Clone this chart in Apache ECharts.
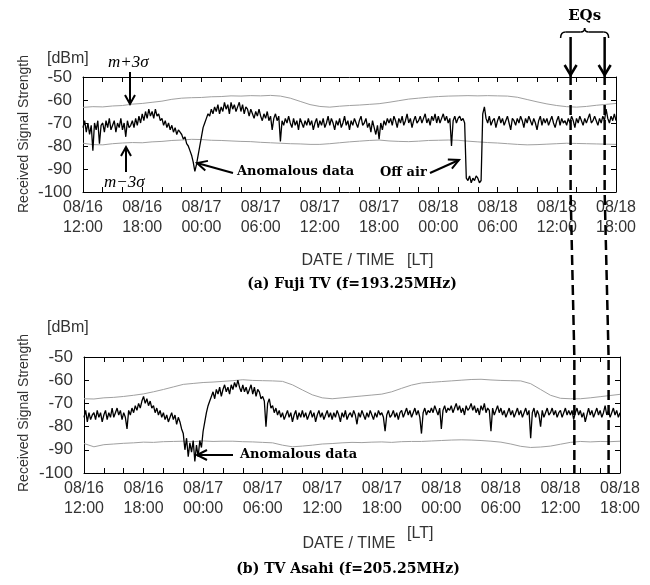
<!DOCTYPE html>
<html>
<head>
<meta charset="utf-8">
<script src="https://cdn.jsdelivr.net/npm/echarts@6/dist/echarts.min.js"></script>
<style>
html,body{margin:0;padding:0;background:#fff;}
#c{width:650px;height:585px;}
</style>
</head>
<body>
<div id="c"></div>
<script>
// ---------- DATA ----------
// time axis: hours since 08/16 12:00 (LT)
const xTickLabels = ['08/16\n12:00','08/16\n18:00','08/17\n00:00','08/17\n06:00','08/17\n12:00','08/17\n18:00','08/18\n00:00','08/18\n06:00','08/18\n12:00','08/18\n18:00'];
const yTicks = [-100, -90, -80, -70, -60, -50];
const SIG_STEP = 1 / 6;  // hours between signal samples (10 min)
const BAND_STEP = 1;     // hours between m±3σ samples
const eqHours = [49.4, 52.85];

// (a) Fuji TV received signal [dBm], one row per hour
const fujiSignal = [
 -72,-69,-74,-70,-75,-71,
 -82,-70,-73,-69,-79,-71,
 -70,-74,-69,-72,-68,-73,
 -71,-69,-74,-70,-72,-68,
 -73,-70,-76,-69,-72,-71,
 -69,-72,-68,-71,-67,-70,
 -66,-69,-65,-68,-64,-67,
 -65,-68,-64,-67,-66,-69,
 -68,-71,-69,-72,-70,-73,
 -71,-74,-72,-75,-73,-74,
 -75,-77,-76,-79,-80,-82,
 -84,-87,-91,-88,-84,-80,
 -76,-72,-70,-68,-66,-67,
 -64,-66,-63,-65,-62,-66,
 -63,-65,-61,-64,-62,-66,
 -61,-64,-62,-65,-63,-61,
 -65,-62,-66,-63,-64,-67,
 -64,-66,-68,-65,-67,-64,
 -67,-69,-66,-68,-65,-69,
 -67,-73,-68,-66,-69,-67,
 -78,-69,-71,-68,-70,-67,
 -70,-72,-68,-71,-69,-73,
 -68,-70,-72,-69,-71,-68,
 -71,-69,-73,-70,-68,-72,
 -69,-71,-68,-72,-70,-67,
 -71,-68,-70,-73,-69,-71,
 -68,-72,-70,-67,-71,-69,
 -73,-69,-71,-68,-70,-72,
 -69,-67,-71,-70,-68,-72,
 -70,-74,-69,-72,-75,-71,
 -77,-70,-73,-69,-71,-68,
 -70,-68,-71,-67,-69,-72,
 -68,-70,-67,-71,-69,-66,
 -70,-68,-72,-69,-67,-70,
 -69,-67,-70,-68,-66,-70,
 -68,-71,-67,-69,-66,-70,
 -67,-70,-68,-66,-69,-67,
 -70,-68,-80,-69,-67,-70,
 -68,-67,-69,-68,-70,-94,
 -95,-93,-96,-94,-95,-93,
 -94,-96,-95,-66,-63,-68,
 -70,-67,-71,-69,-68,-72,
 -69,-67,-70,-68,-71,-69,
 -67,-70,-73,-68,-69,-71,
 -68,-70,-67,-69,-72,-68,
 -70,-67,-69,-71,-68,-70,
 -73,-69,-67,-71,-68,-70,
 -68,-71,-69,-67,-70,-72,
 -69,-67,-71,-68,-70,-69,
 -71,-68,-70,-67,-69,-72,
 -68,-70,-67,-69,-71,-68,
 -70,-68,-66,-70,-69,-67,
 -69,-71,-68,-70,-67,-69,
 -64,-68,-70,-67,-69,-66,
 -69
];
const fujiUpper = [
 -63.2,-62.9,-63.0,-62.6,-62.4,-61.8,-61.5,-61.0,-60.5,-59.7,
 -59.2,-59.0,-58.9,-58.6,-58.5,-58.2,-58.3,-58.1,-58.2,-58.0,
 -58.3,-59.2,-60.6,-62.0,-62.8,-63.1,-62.7,-62.4,-62.2,-61.9,
 -61.6,-61.0,-60.3,-59.6,-59.2,-58.8,-58.5,-58.3,-58.2,-58.1,
 -58.2,-58.1,-58.2,-58.3,-58.8,-59.8,-60.8,-61.7,-62.4,-62.9,
 -63.1,-62.8,-62.3,-61.9,-61.5
];
const fujiLower = [
 -78.8,-79.4,-79.5,-79.0,-78.7,-78.5,-78.6,-78.2,-78.0,-77.6,
 -77.4,-77.1,-77.2,-77.5,-77.6,-77.8,-78.0,-78.1,-78.4,-78.6,
 -78.8,-79.0,-79.1,-79.3,-79.3,-79.0,-78.6,-78.2,-77.9,-77.6,
 -77.4,-77.8,-78.0,-78.1,-77.9,-77.6,-77.5,-77.4,-77.5,-77.9,
 -78.2,-78.5,-78.7,-79.0,-79.3,-79.5,-79.4,-79.2,-79.0,-78.8,
 -78.9,-79.0,-79.1,-79.2,-79.3
];

// (b) TV Asahi received signal [dBm], one row per hour
const asahiSignal = [
 -76,-73,-78,-74,-77,-75,
 -74,-77,-73,-76,-74,-78,
 -75,-73,-77,-74,-76,-72,
 -76,-74,-72,-75,-73,-77,
 -74,-76,-81,-73,-75,-72,
 -74,-71,-73,-70,-72,-69,
 -67,-70,-68,-71,-69,-72,
 -71,-74,-72,-75,-73,-76,
 -74,-77,-75,-78,-76,-74,
 -77,-75,-79,-76,-78,-81,
 -83,-90,-85,-93,-87,-91,
 -86,-95,-88,-93,-86,-89,
 -82,-78,-74,-71,-69,-67,
 -65,-68,-64,-66,-63,-67,
 -64,-62,-65,-63,-66,-62,
 -64,-61,-63,-60,-63,-65,
 -62,-65,-63,-66,-64,-62,
 -66,-63,-67,-64,-65,-68,
 -67,-69,-80,-70,-68,-72,
 -71,-74,-72,-75,-73,-76,
 -74,-77,-75,-73,-76,-74,
 -78,-75,-73,-77,-74,-76,
 -73,-76,-74,-77,-75,-73,
 -76,-74,-78,-75,-73,-76,
 -74,-77,-75,-73,-76,-74,
 -77,-74,-76,-73,-75,-78,
 -74,-76,-73,-77,-75,-74,
 -76,-73,-75,-79,-74,-76,
 -73,-75,-77,-74,-76,-73,
 -75,-77,-74,-76,-73,-75,
 -74,-76,-82,-75,-73,-76,
 -75,-73,-76,-74,-77,-74,
 -73,-76,-74,-72,-75,-73,
 -76,-74,-72,-75,-73,-76,
 -83,-74,-72,-75,-73,-74,
 -72,-74,-71,-73,-75,-72,
 -81,-73,-71,-74,-72,-73,
 -71,-74,-72,-70,-73,-71,
 -74,-72,-75,-71,-73,-72,
 -70,-73,-71,-74,-72,-75,
 -71,-73,-70,-74,-72,-73,
 -82,-72,-75,-73,-71,-74,
 -72,-75,-73,-76,-74,-72,
 -75,-73,-76,-74,-72,-75,
 -73,-76,-74,-72,-75,-73,
 -85,-74,-72,-76,-73,-75,
 -80,-73,-76,-74,-72,-75,
 -74,-72,-75,-73,-76,-74,
 -73,-76,-74,-72,-75,-73,
 -75,-73,-77,-74,-72,-75,
 -73,-76,-74,-78,-75,-72,
 -75,-73,-76,-74,-72,-75,
 -73,-76,-74,-71,-75,-73,
 -76,-74,-72,-75,-73,-76,
 -74
];
const asahiUpper = [
 -68.0,-68.1,-67.6,-67.4,-67.0,-66.5,-65.9,-65.0,-64.0,-62.9,
 -61.8,-61.4,-61.0,-60.8,-60.5,-60.2,-59.8,-60.1,-60.2,-60.3,
 -60.5,-62.0,-64.2,-66.3,-67.6,-68.0,-67.6,-67.2,-66.8,-66.4,
 -66.0,-65.0,-63.5,-62.1,-61.2,-60.9,-60.6,-60.3,-60.0,-59.7,
 -59.6,-59.9,-60.1,-60.2,-60.3,-61.5,-64.0,-66.5,-67.8,-68.0,
 -68.0,-67.6,-67.1,-66.6,-66.1
];
const asahiLower = [
 -87.3,-88.7,-87.8,-87.5,-87.2,-87.0,-86.7,-86.8,-86.5,-86.4,
 -86.3,-86.5,-86.2,-86.4,-86.3,-86.3,-86.5,-86.6,-86.8,-87.0,
 -88.0,-88.7,-88.4,-88.0,-87.5,-87.3,-87.0,-86.8,-86.9,-86.7,
 -86.6,-86.8,-86.5,-86.4,-86.4,-86.2,-86.0,-85.8,-85.7,-85.8,
 -86.0,-86.3,-86.7,-87.5,-88.5,-89.0,-88.8,-88.4,-87.6,-86.8,
 -86.4,-86.6,-86.4,-86.5,-86.3
];

// ---------- CHART ----------
const toPairs = (arr, step) => arr.map((v, i) => [i * step, v]);
const X_MIN = 0, X_MAX = 54, X_INT = 6;
const Y_MIN = yTicks[0], Y_MAX = yTicks[yTicks.length - 1], Y_INT = yTicks[1] - yTicks[0];

const sansFont = 'Liberation Sans, Arial, sans-serif';
const txtColor = '#333';

function xAxisDef(gridIndex, withLabels) {
  return {
    type: 'value', gridIndex, min: X_MIN, max: X_MAX, interval: X_INT,
    position: withLabels ? 'bottom' : 'top',
    axisLine: { show: true, onZero: false, lineStyle: { color: '#000', width: 1 } },
    axisTick: { show: true, inside: true, length: 5, lineStyle: { color: '#000', width: 1 } },
    minorTick: { show: true, splitNumber: 3, length: 5, lineStyle: { color: '#000', width: 1 } },
    splitLine: { show: false }, minorSplitLine: { show: false },
    axisLabel: withLabels ? {
      show: true, margin: 6, color: txtColor, fontFamily: sansFont, fontSize: 16, lineHeight: 20,
      formatter: v => xTickLabels[Math.round((v - X_MIN) / X_INT)] || ''
    } : { show: false }
  };
}
function yAxisDef(gridIndex, withLabels) {
  return {
    type: 'value', gridIndex, min: Y_MIN, max: Y_MAX, interval: Y_INT,
    position: withLabels ? 'left' : 'right',
    axisLine: { show: true, onZero: false, lineStyle: { color: '#000', width: 1 } },
    axisTick: { show: true, inside: true, length: 5, lineStyle: { color: '#000', width: 1 } },
    splitLine: { show: false },
    axisLabel: withLabels ? {
      show: true, margin: 11, color: txtColor, fontFamily: sansFont, fontSize: 17
    } : { show: false }
  };
}
function lineSeries(data, xi, yi, color, width, z) {
  return {
    type: 'line', data, xAxisIndex: xi, yAxisIndex: yi, showSymbol: false, symbol: 'none',
    lineStyle: { color, width }, z, animation: false, silent: true
  };
}

const chart = echarts.init(document.getElementById('c'), null, { renderer: 'canvas' });
chart.setOption({
  animation: false,
  backgroundColor: '#fff',
  grid: [
    { left: 83, top: 77, width: 533, height: 115, containLabel: false },
    { left: 84, top: 357, width: 536, height: 116, containLabel: false }
  ],
  xAxis: [xAxisDef(0, true), xAxisDef(0, false), xAxisDef(1, true), xAxisDef(1, false)],
  yAxis: [yAxisDef(0, true), yAxisDef(0, false), yAxisDef(1, true), yAxisDef(1, false)],
  series: [
    lineSeries(toPairs(fujiUpper, BAND_STEP), 0, 0, '#a0a0a0', 1, 2),
    lineSeries(toPairs(fujiLower, BAND_STEP), 0, 0, '#a0a0a0', 1, 2),
    lineSeries(toPairs(fujiSignal, SIG_STEP), 0, 0, '#000', 1.3, 3),
    lineSeries(toPairs(asahiUpper, BAND_STEP), 2, 2, '#a0a0a0', 1, 2),
    lineSeries(toPairs(asahiLower, BAND_STEP), 2, 2, '#a0a0a0', 1, 2),
    lineSeries(toPairs(asahiSignal, SIG_STEP), 2, 2, '#000', 1.3, 3)
  ]
});

// ---------- ANNOTATIONS ----------
function arrow(x1, y1, x2, y2, w, hl, hw) {
  const a = Math.atan2(y2 - y1, x2 - x1);
  const bx = x2 - hl * Math.cos(a), by = y2 - hl * Math.sin(a);
  const px = -Math.sin(a) * hw / 2, py = Math.cos(a) * hw / 2;
  return [
    { type: 'line', shape: { x1, y1, x2, y2 }, style: { stroke: '#000', lineWidth: w }, z: 20 },
    { type: 'polyline', shape: { points: [[bx + px, by + py], [x2, y2], [bx - px, by - py]] },
      style: { stroke: '#000', lineWidth: w, fill: null }, z: 20 }
  ];
}
function txt(text, x, y, font, opts, rotation) {
  const el = { type: 'text', x, y, z: 20,
    style: Object.assign({ text, font, fill: '#000', textAlign: 'left', textVerticalAlign: 'middle' }, opts || {}) };
  if (rotation) el.rotation = rotation;
  return el;
}
const serifB = 'DejaVu Serif, Liberation Serif, serif';
const g = [];
// y axis names
g.push(txt('Received Signal Strength', 24, 134, '14px ' + sansFont, { textAlign: 'center', fill: txtColor }, Math.PI / 2));
g.push(txt('Received Signal Strength', 24, 413, '14px ' + sansFont, { textAlign: 'center', fill: txtColor }, Math.PI / 2));
g.push(txt('[dBm]', 47, 59, '16px ' + sansFont, { fill: txtColor }));
g.push(txt('[dBm]', 47, 328, '16px ' + sansFont, { fill: txtColor }));
// x axis names
g.push(txt('DATE / TIME', 348, 261, '16px ' + sansFont, { textAlign: 'center', fill: txtColor }));
g.push(txt('[LT]', 407, 261, '16px ' + sansFont, { fill: txtColor }));
g.push(txt('DATE / TIME', 349, 544, '16px ' + sansFont, { textAlign: 'center', fill: txtColor }));
g.push(txt('[LT]', 407, 534, '16px ' + sansFont, { fill: txtColor }));
// captions
g.push(txt('(a) Fuji TV (f=193.25MHz)', 352, 284, 'bold 14px ' + serifB, { textAlign: 'center' }));
g.push(txt('(b) TV Asahi (f=205.25MHz)', 348, 569, 'bold 14px ' + serifB, { textAlign: 'center' }));
// m±3σ
g.push(txt('m+3σ', 108, 63, 'italic 17px Liberation Serif, serif'));
g.push(...arrow(130, 72, 130, 104, 2, 9, 10));
g.push(txt('m−3σ', 104, 183, 'italic 17px Liberation Serif, serif'));
g.push(...arrow(126, 172, 126, 147, 2, 9, 10));
// anomalous / off air
g.push(txt('Anomalous data', 237, 172, 'bold 13px ' + serifB));
g.push(...arrow(233, 173, 197, 163, 2, 10, 10));
g.push(txt('Off air', 380, 173, 'bold 13px ' + serifB));
g.push(...arrow(430, 173, 459, 160, 2, 10, 10));
g.push(txt('Anomalous data', 240, 455, 'bold 13px ' + serifB));
g.push(...arrow(233, 455, 197, 455, 2, 10, 10));

// EQ markers (dashed through both panels)
const topY = chart.convertToPixel({ yAxisIndex: 0 }, Y_MAX);
const topB = chart.convertToPixel({ yAxisIndex: 0 }, Y_MIN);
const botY = chart.convertToPixel({ yAxisIndex: 2 }, Y_MAX);
const botB = chart.convertToPixel({ yAxisIndex: 2 }, Y_MIN);
const eqTopX = eqHours.map(h => chart.convertToPixel({ xAxisIndex: 0 }, h));
const eqBotX = eqHours.map(h => chart.convertToPixel({ xAxisIndex: 2 }, h));
eqHours.forEach((h, k) => {
  g.push({ type: 'polyline', z: 25,
    shape: { points: [[eqTopX[k], topY - 2], [eqTopX[k], topB], [eqBotX[k], botY], [eqBotX[k], botB]] },
    style: { stroke: '#000', lineWidth: 2.5, lineDash: [10, 5], fill: null } });
  g.push(...arrow(eqTopX[k], 37, eqTopX[k], topY - 2, 2.5, 10, 12));
});
// curly brace over the two EQ arrows
const bL = eqTopX[0] - 10, bR = eqTopX[1] + 4, bM = (bL + bR) / 2, bY = 32;
const braceStyle = { stroke: '#000', lineWidth: 1.5, fill: null };
g.push({ type: 'bezierCurve', z: 25, shape: { x1: bL, y1: bY + 6, cpx1: bL, cpy1: bY, x2: bL + 5, y2: bY }, style: braceStyle });
g.push({ type: 'line', z: 25, shape: { x1: bL + 5, y1: bY, x2: bM - 4, y2: bY }, style: braceStyle });
g.push({ type: 'bezierCurve', z: 25, shape: { x1: bM - 4, y1: bY, cpx1: bM, cpy1: bY, x2: bM, y2: bY - 4 }, style: braceStyle });
g.push({ type: 'bezierCurve', z: 25, shape: { x1: bM, y1: bY - 4, cpx1: bM, cpy1: bY, x2: bM + 4, y2: bY }, style: braceStyle });
g.push({ type: 'line', z: 25, shape: { x1: bM + 4, y1: bY, x2: bR - 5, y2: bY }, style: braceStyle });
g.push({ type: 'bezierCurve', z: 25, shape: { x1: bR - 5, y1: bY, cpx1: bR, cpy1: bY, x2: bR, y2: bY + 6 }, style: braceStyle });
g.push(txt('EQs', bM, 16, 'bold 15px ' + serifB, { textAlign: 'center' }));

chart.setOption({ graphic: { elements: g } });
</script>
</body>
</html>
